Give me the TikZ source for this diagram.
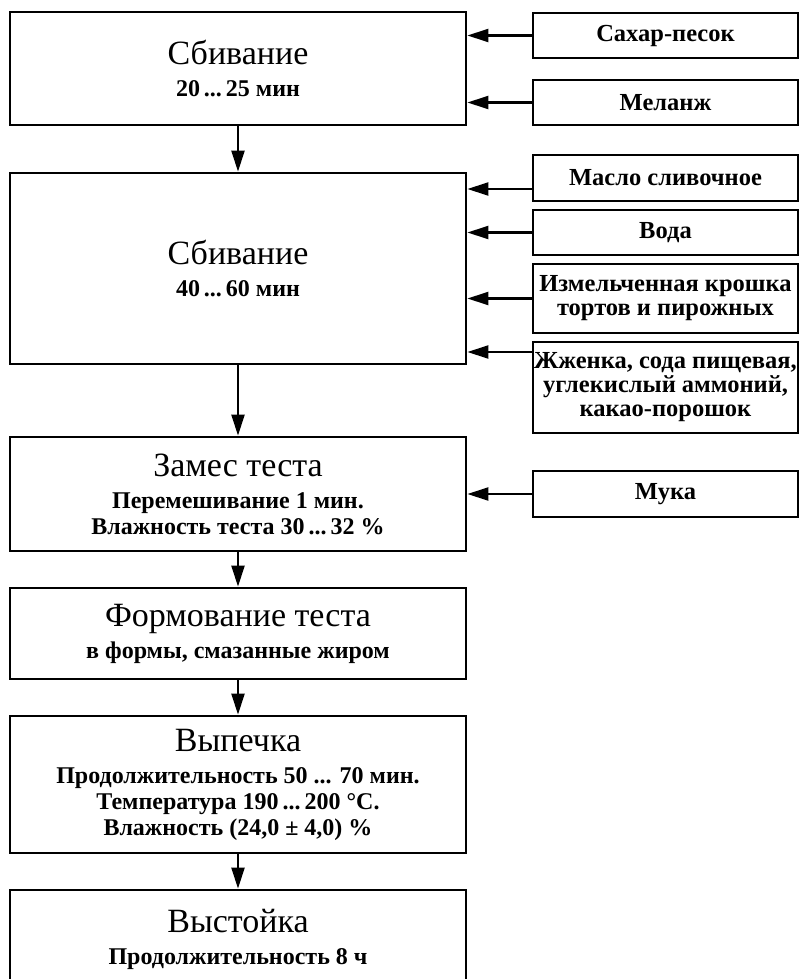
\documentclass[tikz,border=0pt]{standalone}
\usepackage{fontspec}
\setmainfont{Liberation Serif}
\usetikzlibrary{arrows.meta}

\newcommand{\stagetitle}[1]{{\mdseries\fontsize{34}{34}\selectfont #1}}
\newcommand{\ingrfont}{\bfseries\fontsize{24.5}{24}\selectfont}

\begin{document}
\begin{tikzpicture}[x=1pt, y=-1pt,
    stage/.style={draw, line width=2.8pt, minimum width=456pt, inner sep=0pt, align=center,
        font=\bfseries\fontsize{24}{26}\selectfont},
    ingr/.style={draw, line width=2.8pt, minimum width=265pt, inner sep=0pt, align=center,
        font=\ingrfont},
    flow/.style={-{Triangle[length=21pt, width=13pt]}, line width=2.2pt}]
    \clip (0, 0) rectangle (799, 979);

    % main line
    \node[stage, minimum height=113pt] (whip1) at (238, 68.5) {\stagetitle{Сбивание}\\[6pt] 20\,...\,25 мин};
    \node[stage, minimum height=191pt] (whip2) at (238, 268.5) {\stagetitle{Сбивание}\\[6pt] 40\,...\,60 мин};
    \node[stage, minimum height=114pt] (mix) at (238, 494) {\stagetitle{Замес теста}\\[6pt] Перемешивание 1 мин.\\ Влажность теста 30\,...\,32 \%};
    \node[stage, minimum height=91pt] (shape) at (238, 633.5) {\stagetitle{Формование теста}\\[6pt] в формы, смазанные жиром};
    \node[stage, minimum height=137pt] (bake) at (238, 784.5) {\stagetitle{Выпечка}\\[6pt] Продолжительность 50 ... 70 мин.\\ Температура 190\,...\,200 °C.\\ Влажность (24,0 ± 4,0) \%};
    \node[stage, minimum height=98pt] (rest) at (238, 939) {\stagetitle{Выстойка}\\[6pt] Продолжительность 8 ч};

    % ingredients
    \node[ingr, minimum height=45pt] (sugar) at (665.5, 35.5) {Сахар-песок};
    \node[ingr, minimum height=45pt] (melange) at (665.5, 102.5) {Меланж};
    \node[ingr, minimum height=46pt] (butter) at (665.5, 178) {Масло сливочное};
    \node[ingr, minimum height=45pt] (water) at (665.5, 232.5) {Вода};
    \node[ingr, minimum height=69pt] (crumb) at (665.5, 298.5) {Измельченная крошка\\ тортов и пирожных};
    \node[ingr, minimum height=91pt] (soda) at (665.5, 387.5) {Жженка, сода пищевая,\\ углекислый аммоний,\\ какао-порошок};
    \node[ingr, minimum height=46pt] (flour) at (665.5, 494) {Мука};

    \draw[flow] (whip1.south) -- (whip2.north);
    \draw[flow] (whip2.south) -- (mix.north);
    \draw[flow] (mix.south) -- (shape.north);
    \draw[flow] (shape.south) -- (bake.north);
    \draw[flow] (bake.south) -- (rest.north);

    \draw[flow] (sugar.west) -- (sugar.west -| whip1.east);
    \draw[flow] (melange.west) -- (melange.west -| whip1.east);
    \draw[flow] ([yshift=-11pt]butter.west) -- ([yshift=-11pt]butter.west -| whip2.east);
    \draw[flow] (water.west) -- (water.west -| whip2.east);
    \draw[flow] (crumb.west) -- (crumb.west -| whip2.east);
    \draw[flow] ([yshift=35.5pt]soda.west) -- ([yshift=35.5pt]soda.west -| whip2.east);
    \draw[flow] (flour.west) -- (flour.west -| mix.east);
\end{tikzpicture}
\end{document}
